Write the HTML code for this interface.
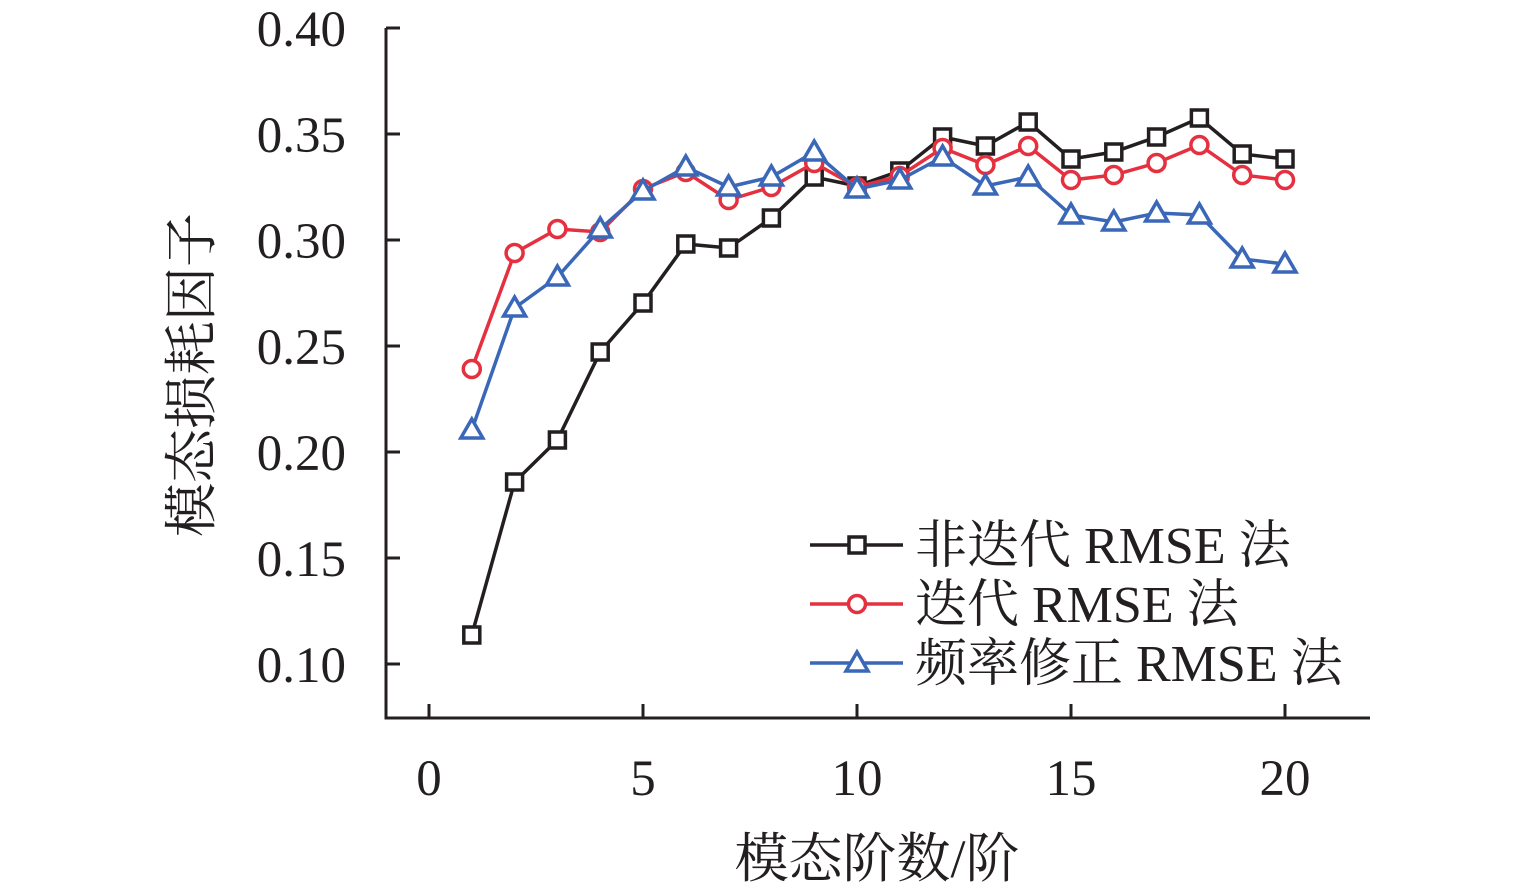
<!DOCTYPE html>
<html><head><meta charset="utf-8"><style>
html,body{margin:0;padding:0;background:#fff;}
svg text{font-family:"Liberation Serif","Noto Serif CJK SC",serif;fill:#231f20;}
</style></head><body>
<svg id="s" width="1535" height="887" xmlns="http://www.w3.org/2000/svg">
<g stroke="#231f20" stroke-width="3" fill="none">
<path d="M386,28 V718 H1370"/>
<path d="M386,28 h14 M386,134 h14 M386,240 h14 M386,346 h14 M386,452 h14 M386,558 h14 M386,664 h14"/>
<path d="M429,718 v-14 M643,718 v-14 M857,718 v-14 M1071,718 v-14 M1285,718 v-14"/>
</g>
<g font-size="51" text-anchor="end">
<text x="346" y="46">0.40</text><text x="346" y="152">0.35</text><text x="346" y="258">0.30</text>
<text x="346" y="364">0.25</text><text x="346" y="470">0.20</text><text x="346" y="576">0.15</text><text x="346" y="682">0.10</text>
</g>
<g font-size="51" text-anchor="middle">
<text x="429" y="795">0</text><text x="643" y="795">5</text><text x="857" y="795">10</text><text x="1071" y="795">15</text><text x="1285" y="795">20</text>
</g>
<g font-size="54" text-anchor="middle">
<text x="877" y="877">模态阶数/阶</text>
<text transform="translate(210,375) rotate(-90)">模态损耗因子</text>
</g>
<g id="series"></g>
<g font-size="52">
<text x="915" y="563">非迭代 RMSE 法</text>
<text x="915" y="622">迭代 RMSE 法</text>
<text x="915" y="681">频率修正 RMSE 法</text>
</g>
</svg>
<script>
var X=function(i){return 429+42.8*i;};
var S=[
{c:"#231f20",m:"s",y:[635,482,440,352,303,244,248,218,177,186,171,137,146,122,159,152,137,118,154,159],ly:545},
{c:"#e5303f",m:"c",y:[369,253,229,232,189,172,200,187,163,187,176,148,165,146,180,175,163,145,175,180],ly:604},
{c:"#3a67b8",m:"t",y:[430,308,277,229,191,167,187,177,152,189,180,157,186,177,215,222,213,215,259,264],ly:663}];
var g=document.getElementById("series"),h="";
function mk(m,x,y,c){
 if(m=="s")return '<rect x="'+(x-8)+'" y="'+(y-8)+'" width="16" height="16" fill="#fff" stroke="'+c+'" stroke-width="3.5"/>';
 if(m=="c")return '<circle cx="'+x+'" cy="'+y+'" r="8.5" fill="#fff" stroke="'+c+'" stroke-width="3.5"/>';
 return '<path d="M'+x+','+(y-11)+' L'+(x+11)+','+(y+8)+' L'+(x-11)+','+(y+8)+' Z" fill="#fff" stroke="'+c+'" stroke-width="3.5"/>';
}
S.forEach(function(s){
 var p=s.y.map(function(v,i){return X(i+1)+","+v;}).join(" ");
 h+='<polyline points="'+p+'" fill="none" stroke="'+s.c+'" stroke-width="3.5"/>';
 s.y.forEach(function(v,i){h+=mk(s.m,X(i+1),v,s.c);});
 h+='<line x1="810" y1="'+s.ly+'" x2="903" y2="'+s.ly+'" stroke="'+s.c+'" stroke-width="3.5"/>';
 h+=mk(s.m,857,s.ly,s.c);
});
g.innerHTML=h;
</script>
</body></html>
